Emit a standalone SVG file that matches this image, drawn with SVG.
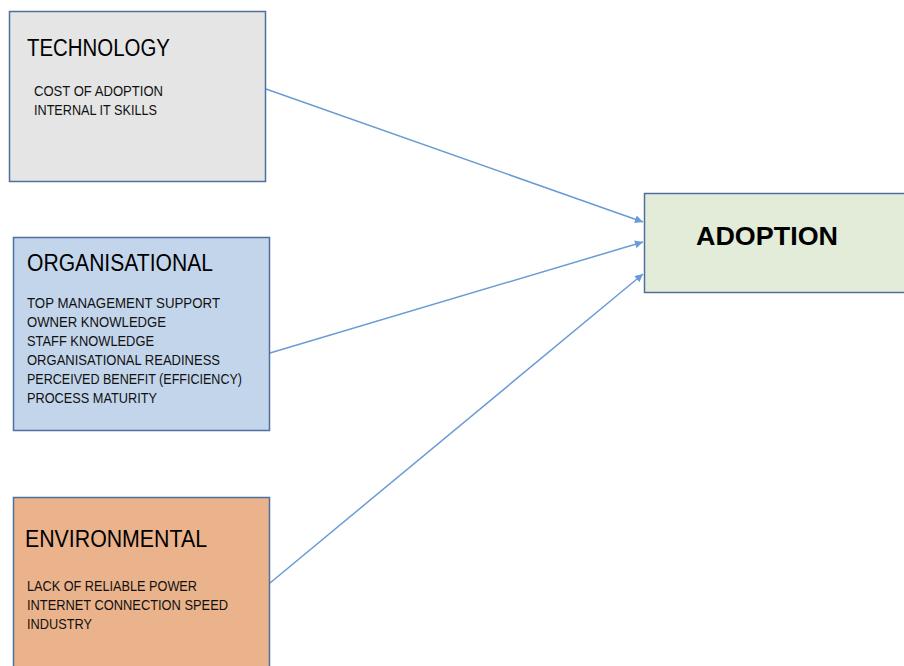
<svg xmlns="http://www.w3.org/2000/svg" width="904" height="666" viewBox="0 0 904 666">
  <style>
    .box { stroke: #4f6f9e; stroke-width: 1.5; }
    .title { font-family: "Liberation Sans", Arial, sans-serif; font-size: 23px; fill: #000; }
    .item { font-family: "Liberation Sans", Arial, sans-serif; font-size: 14.5px; fill: #111; }
    .main { font-family: "Liberation Sans", Arial, sans-serif; font-size: 25px; font-weight: bold; fill: #000; }
    .link { stroke: #6a9bd5; stroke-width: 1.5; fill: none; marker-end: url(#arrow); }
  </style>
  <defs>
    <marker id="arrow" viewBox="0 0 10 10" refX="10" refY="5" markerWidth="9" markerHeight="8" orient="auto" markerUnits="userSpaceOnUse">
      <path d="M0,0 L10,5 L0,10 z" fill="#6a9bd5"/>
    </marker>
  </defs>
  <rect width="904" height="666" fill="#fff"/>

  <g id="connectors">
    <line class="link" x1="266" y1="89" x2="643" y2="222"/>
    <line class="link" x1="270" y1="353" x2="643" y2="242"/>
    <line class="link" x1="270" y1="583" x2="643" y2="274"/>
  </g>

  <g id="technology">
    <rect class="box" x="9.5" y="11.5" width="256" height="170" fill="#e5e5e5"/>
    <text class="title" x="27" y="56" textLength="143" lengthAdjust="spacingAndGlyphs">TECHNOLOGY</text>
    <text class="item" x="34" y="96" textLength="129" lengthAdjust="spacingAndGlyphs">COST OF ADOPTION</text>
    <text class="item" x="34" y="115" textLength="123" lengthAdjust="spacingAndGlyphs">INTERNAL IT SKILLS</text>
  </g>

  <g id="organisational">
    <rect class="box" x="13.5" y="237.5" width="256" height="193" fill="#c3d5eb"/>
    <text class="title" x="27" y="271" textLength="186" lengthAdjust="spacingAndGlyphs">ORGANISATIONAL</text>
    <text class="item" x="27" y="308" textLength="193" lengthAdjust="spacingAndGlyphs">TOP MANAGEMENT SUPPORT</text>
    <text class="item" x="27" y="327" textLength="139" lengthAdjust="spacingAndGlyphs">OWNER KNOWLEDGE</text>
    <text class="item" x="27" y="346" textLength="127" lengthAdjust="spacingAndGlyphs">STAFF KNOWLEDGE</text>
    <text class="item" x="27" y="365" textLength="193" lengthAdjust="spacingAndGlyphs">ORGANISATIONAL READINESS</text>
    <text class="item" x="27" y="384" textLength="215" lengthAdjust="spacingAndGlyphs">PERCEIVED BENEFIT (EFFICIENCY)</text>
    <text class="item" x="27" y="403" textLength="130" lengthAdjust="spacingAndGlyphs">PROCESS MATURITY</text>
  </g>

  <g id="environmental">
    <rect class="box" x="13.5" y="497.5" width="256" height="175" fill="#ebb38b"/>
    <text class="title" x="25" y="547" textLength="182" lengthAdjust="spacingAndGlyphs">ENVIRONMENTAL</text>
    <text class="item" x="27" y="591" textLength="170" lengthAdjust="spacingAndGlyphs">LACK OF RELIABLE POWER</text>
    <text class="item" x="27" y="610" textLength="201" lengthAdjust="spacingAndGlyphs">INTERNET CONNECTION SPEED</text>
    <text class="item" x="27" y="629" textLength="65" lengthAdjust="spacingAndGlyphs">INDUSTRY</text>
  </g>

  <g id="adoption">
    <rect class="box" x="644.5" y="193.5" width="264" height="99" fill="#e2ecd8"/>
    <text class="main" x="696" y="245" textLength="142" lengthAdjust="spacingAndGlyphs">ADOPTION</text>
  </g>
</svg>
